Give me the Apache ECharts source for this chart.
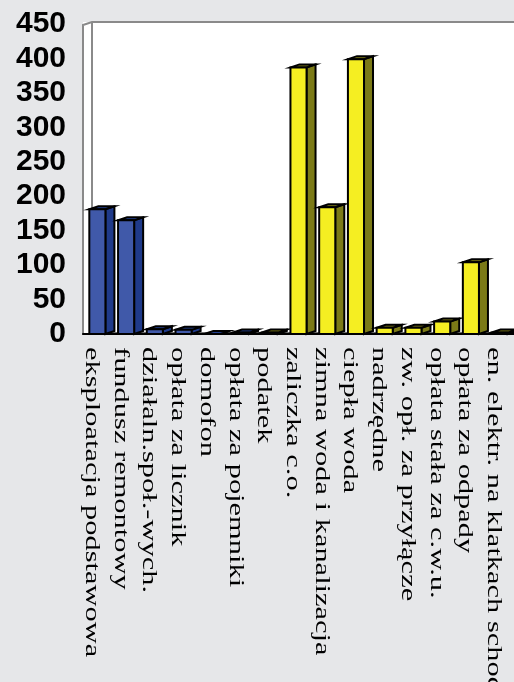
<!DOCTYPE html>
<html>
<head>
<meta charset="utf-8">
<title>opłaty</title>
<script src="https://cdn.jsdelivr.net/npm/echarts@6/dist/echarts.min.js"></script>
<style>
    html, body { margin: 0; padding: 0; background: #e6e7e9; }
    #main { width: 514px; height: 682px; }
</style>
</head>
<body>
<div id="main"></div>
<script>
var categories = [
    'eksploatacja podstawowa',
    'fundusz remontowy',
    'działaln.społ.-wych.',
    'opłata za licznik',
    'domofon',
    'opłata za pojemniki',
    'podatek',
    'zaliczka c.o.',
    'zimna woda i kanalizacja',
    'ciepła woda',
    'nadrzędne',
    'zw. opł. za przyłącze',
    'opłata stała za c.w.u.',
    'opłata za odpady',
    'en. elektr. na klatkach schodowych'
];
var values = [181, 165, 7, 6, 0, 2, 2, 387, 184, 399, 9, 9, 18, 104, 2];
// 0 = blue group, 1 = yellow group
var groups = [0, 0, 0, 0, 0, 0, 1, 1, 1, 1, 1, 1, 1, 1, 1];
var yMin = 0, yMax = 450, yStep = 50;

var palette = [
    { front: '#4059a9', side: '#1f3a8a', top: '#23408f' },
    { front: '#f5ee22', side: '#7b7a17', top: '#807e18' }
];

var chart = echarts.init(document.getElementById('main'));

function renderBar(params, api) {
    var i = api.value(0);
    var base = api.coord([i, 0]);
    var top = api.coord([i, api.value(1)]);
    var w = api.size([1, 0])[0] * 0.56;
    var x0 = base[0] - w / 2, x1 = base[0] + w / 2;
    var yb = base[1], yt = top[1];
    var dx = 9, dy = -3;
    var col = palette[groups[i]];
    return {
        type: 'group',
        children: [{
            type: 'polygon',
            shape: { points: [[x1, yb], [x1 + dx, yb + dy], [x1 + dx, yt + dy], [x1, yt]] },
            style: { fill: col.side, stroke: '#000', lineWidth: 2 }
        }, {
            type: 'polygon',
            shape: { points: [[x0, yt], [x1, yt], [x1 + dx, yt + dy], [x0 + dx, yt + dy]] },
            style: { fill: col.top, stroke: '#000', lineWidth: 2 }
        }, {
            type: 'rect',
            shape: { x: x0, y: yt, width: w, height: yb - yt },
            style: { fill: col.front, stroke: '#000', lineWidth: 2 }
        }]
    };
}

function renderLabel(params, api) {
    var i = api.value(0);
    var base = api.coord([i, 0]);
    return {
        type: 'text',
        x: base[0] - 6,
        y: base[1] + 13,
        rotation: -Math.PI / 2,
        scaleX: 1.45,
        style: {
            text: categories[i],
            fontFamily: 'Liberation Serif',
            fontSize: 21,
            fill: '#000',
            align: 'left',
            verticalAlign: 'middle'
        }
    };
}

var option = {
    backgroundColor: '#e6e7e9',
    animation: false,
    grid: { left: 83, right: 0, top: 24, bottom: 348 },
    graphic: [
        { type: 'rect', z: -10, shape: { x: 83, y: 22, width: 431, height: 313 }, style: { fill: '#fff' } },
        { type: 'polygon', z: -9, shape: { points: [[83, 335], [514, 335], [514, 332], [92, 332]] }, style: { fill: '#6e6e6e' } },
        { type: 'polyline', z: -8, shape: { points: [[83, 335], [83, 25], [92, 22], [514, 22]] }, style: { stroke: '#8a8a8a', lineWidth: 2, fill: null } },
        { type: 'line', z: -8, shape: { x1: 92, y1: 22, x2: 92, y2: 332 }, style: { stroke: '#8a8a8a', lineWidth: 2 } }
    ],
    xAxis: {
        type: 'category',
        data: categories,
        axisLine: { lineStyle: { color: '#000', width: 2 } },
        axisTick: { length: 8, lineStyle: { color: '#000', width: 2 } },
        axisLabel: { show: false }
    },
    yAxis: {
        type: 'value',
        min: yMin,
        max: yMax,
        interval: yStep,
        axisLine: { show: false },
        axisTick: { show: false },
        splitLine: { show: false },
        axisLabel: {
            margin: 17,
            color: '#000',
            fontFamily: 'Liberation Sans',
            fontWeight: 'bold',
            fontSize: 30
        }
    },
    series: [{
        type: 'custom',
        renderItem: renderBar,
        clip: false,
        data: values.map(function (v, i) { return [i, v]; })
    }, {
        type: 'custom',
        renderItem: renderLabel,
        clip: false,
        silent: true,
        data: values.map(function (v, i) { return [i, 0]; })
    }]
};
chart.setOption(option);
window.onresize = chart.resize;
</script>
</body>
</html>
